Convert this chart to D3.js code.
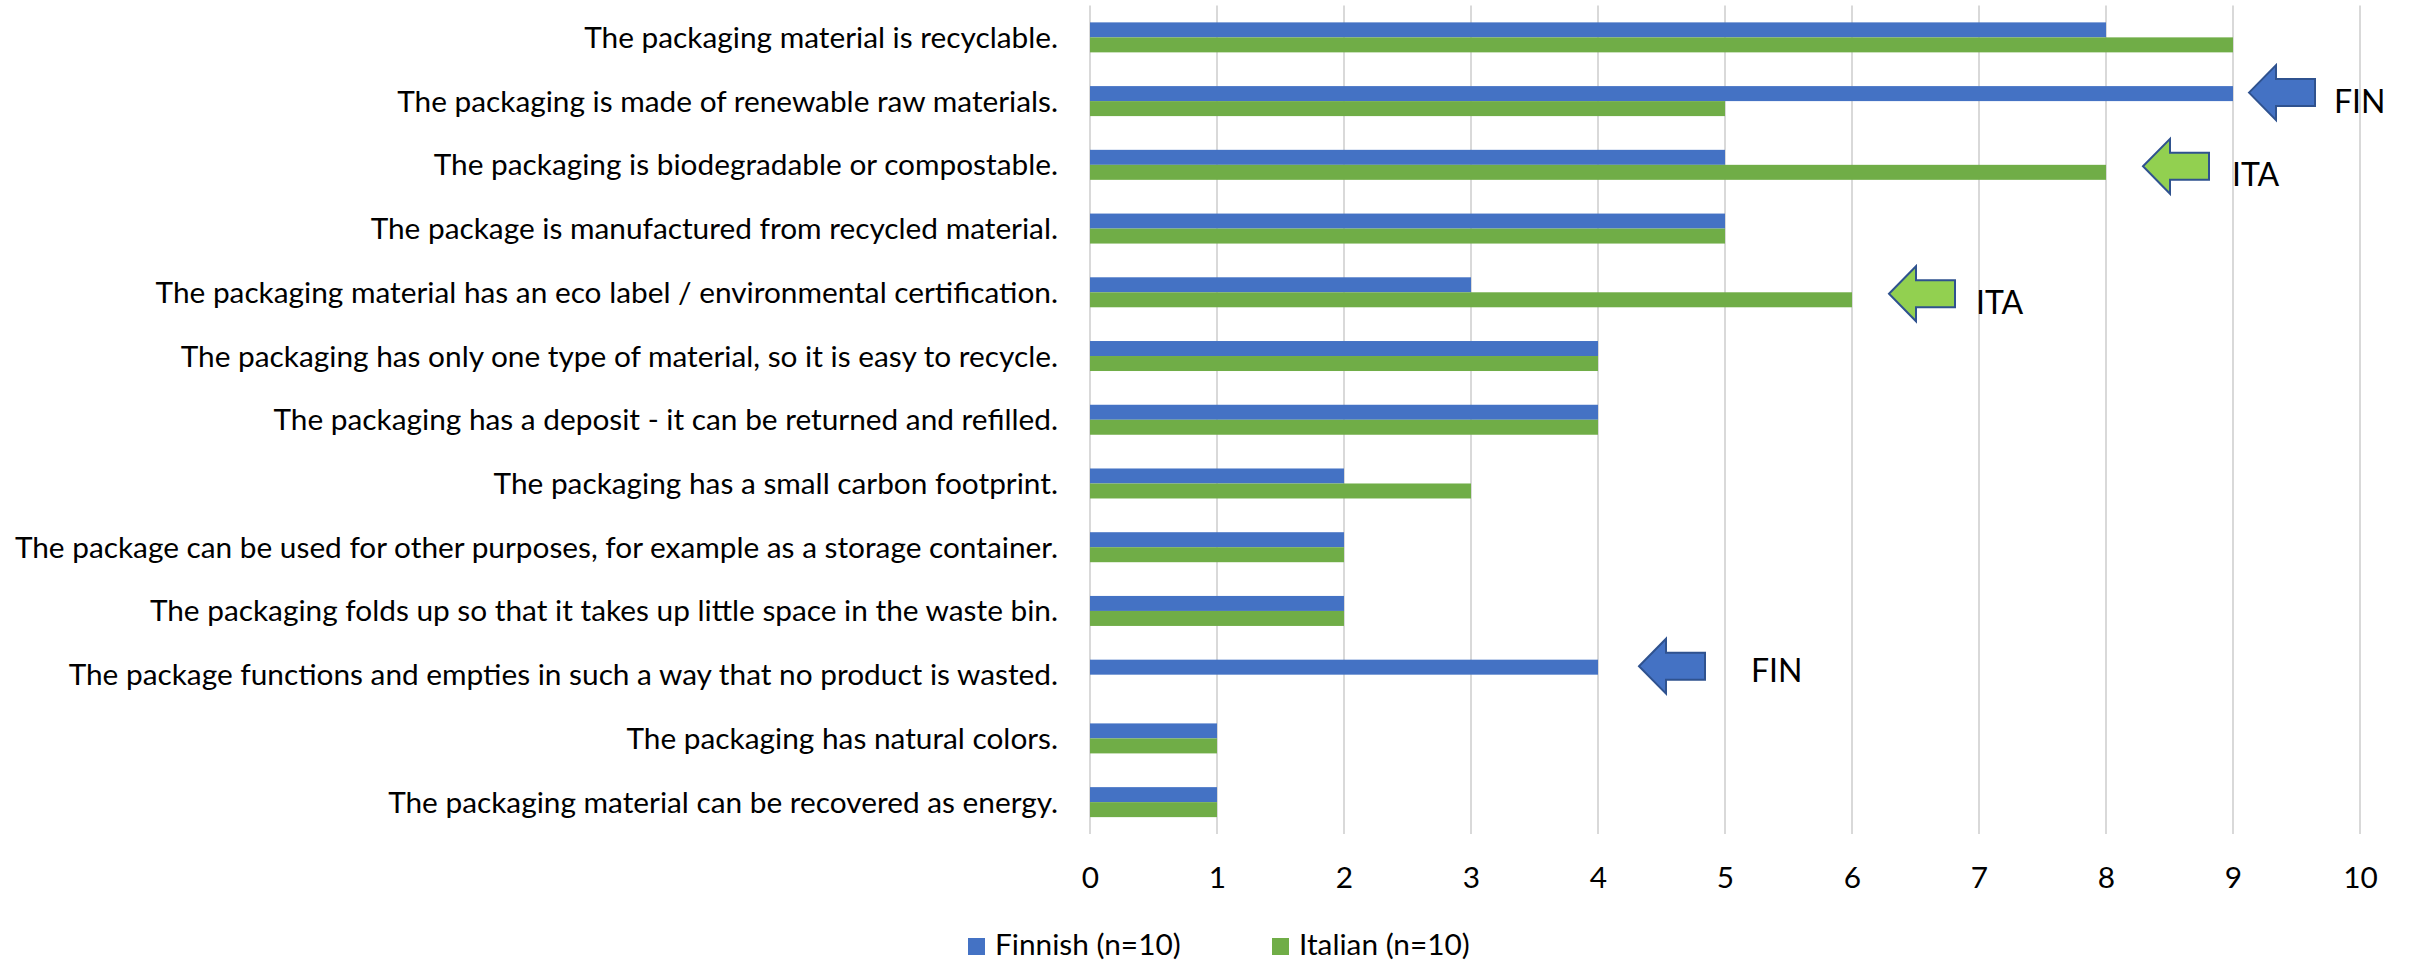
<!DOCTYPE html>
<html>
<head>
<meta charset="utf-8">
<script src="https://cdn.jsdelivr.net/npm/d3@7"></script>
<style>
  html, body { margin: 0; padding: 0; background: #fff; }
  svg { display: block; }
  text { font-family: Lato, "Open Sans", sans-serif; fill: #000; }
</style>
</head>
<body>
<svg id="chart" width="2412" height="961"></svg>
<script>
const categories = [
  "The packaging material is recyclable.",
  "The packaging is made of renewable raw materials.",
  "The packaging is biodegradable or compostable.",
  "The package is manufactured from recycled material.",
  "The packaging material has an eco label / environmental certification.",
  "The packaging has only one type of material, so it is easy to recycle.",
  "The packaging has a deposit - it can be returned and refilled.",
  "The packaging has a small carbon footprint.",
  "The package can be used for other purposes, for example as a storage container.",
  "The packaging folds up so that it takes up little space in the waste bin.",
  "The package functions and empties in such a way that no product is wasted.",
  "The packaging has natural colors.",
  "The packaging material can be recovered as energy."
];
const seriesNames = ["Finnish (n=10)", "Italian (n=10)"];
const finnish = [8, 9, 5, 5, 3, 4, 4, 2, 2, 2, 4, 1, 1];
const italian = [9, 5, 8, 5, 6, 4, 4, 3, 2, 2, 0, 1, 1];
const xTicks = [0, 1, 2, 3, 4, 5, 6, 7, 8, 9, 10];
const annotationCats = [1, 2, 4, 10];
const annotationSeries = [0, 1, 1, 0];
const annotationLabels = ["FIN", "ITA", "ITA", "FIN"];

const colors = ["#4472C4", "#70AD47"];
const arrowFill = ["#4472C4", "#92D050"];
const arrowStroke = "#2F528F";
const fontSize = "29.8px";

const svg = d3.select("#chart");
const x = d3.scaleLinear().domain([0, 10]).range([1090, 2360]);
const p = 0.5294;
const y = d3.scaleBand().domain(categories).range([5.5, 834]).paddingInner(p).paddingOuter(p / 2);
const y1 = d3.scaleBand().domain(seriesNames).range([0, y.bandwidth()]);

// gridlines
svg.append("g").selectAll("line").data(xTicks).join("line")
  .attr("x1", d => x(d)).attr("x2", d => x(d))
  .attr("y1", 5.5).attr("y2", 834)
  .attr("stroke", "#D9D9D9").attr("stroke-width", 2);

// bars
const rows = categories.map((c, i) => ({ c, vals: [finnish[i], italian[i]] }));
const g = svg.append("g");
rows.forEach(r => {
  r.vals.forEach((v, s) => {
    if (v <= 0) return;
    g.append("rect")
      .attr("x", x(0))
      .attr("y", y(r.c) + y1(seriesNames[s]))
      .attr("width", x(v) - x(0))
      .attr("height", y1.bandwidth())
      .attr("fill", colors[s]);
  });
});

// category labels
svg.append("g").selectAll("text").data(categories).join("text")
  .attr("x", 1058)
  .attr("y", d => y(d) + y.bandwidth() / 2 + 10.5)
  .attr("text-anchor", "end")
  .style("font-size", fontSize)
  .text(d => d);

// x axis tick labels
const xAxis = d3.axisBottom(x).tickValues(xTicks).tickSize(0).tickPadding(0).tickFormat(d3.format("d"));
const ax = svg.append("g").call(xAxis);
ax.select(".domain").remove();
ax.selectAll("text")
  .attr("y", 887.5).attr("dy", null)
  .style("font-size", fontSize)
  .style("font-family", "Lato, sans-serif")
  .attr("fill", "#000");

// annotations (arrows + labels)
const gaps = [16, 37, 37, 41];
const textGaps = [19, 23, 21, 46];
const aw = 66, ah = 55, headLen = 27, shaftH = 27;
annotationCats.forEach((ci, k) => {
  const s = annotationSeries[k];
  const c = categories[ci];
  const v = s === 0 ? finnish[ci] : italian[ci];
  const tipX = x(v) + gaps[k];
  const cy = y(c) + y1(seriesNames[s]) + y1.bandwidth() / 2 - (s === 0 ? 1 : 6);
  const pts = [
    [tipX, cy],
    [tipX + headLen, cy - ah / 2],
    [tipX + headLen, cy - shaftH / 2],
    [tipX + aw, cy - shaftH / 2],
    [tipX + aw, cy + shaftH / 2],
    [tipX + headLen, cy + shaftH / 2],
    [tipX + headLen, cy + ah / 2]
  ];
  svg.append("path")
    .attr("d", d3.line()(pts) + "Z")
    .attr("fill", arrowFill[s])
    .attr("stroke", arrowStroke)
    .attr("stroke-width", 2)
    .attr("stroke-linejoin", "miter");
  svg.append("text")
    .attr("x", tipX + aw + textGaps[k])
    .attr("y", cy + (k === 3 ? 16 : 20))
    .style("font-size", "32px")
    .text(annotationLabels[k]);
});

// legend
const legendX = [968, 1272];
const lg = svg.append("g");
seriesNames.forEach((n, i) => {
  lg.append("rect").attr("x", legendX[i]).attr("y", 938).attr("width", 17).attr("height", 17).attr("fill", colors[i]);
  lg.append("text").attr("x", legendX[i] + 27).attr("y", 955).style("font-size", fontSize).text(n);
});
</script>
</body>
</html>
